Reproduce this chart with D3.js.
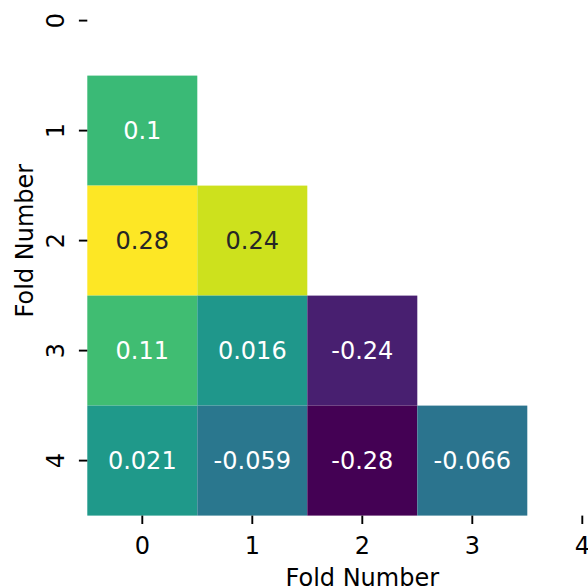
<!DOCTYPE html>
<html>
<head>
<meta charset="utf-8">
<script src="https://cdn.jsdelivr.net/npm/d3@7"></script>
<style>
  body { margin: 0; background: #fff; }
  svg text { font-family: "DejaVu Sans", sans-serif; }
</style>
</head>
<body>
<div id="chart"></div>
<script>
// fold labels (rows and columns)
var folds = [0, 1, 2, 3, 4];
// lower triangle correlations, rows 1..4
var rowIdx = [1, 2, 2, 3, 3, 3, 4, 4, 4, 4];
var colIdx = [0, 0, 1, 0, 1, 2, 0, 1, 2, 3];
var values = [0.10, 0.283, 0.24, 0.11, 0.016, -0.236, 0.021, -0.059, -0.284, -0.066];
var axisTitle = "Fold Number";

var w = 588, h = 587;
var cell = 110;
var left = 87.3, bottom = 515.6;

var svg = d3.select("#chart")
  .append("svg")
  .attr("width", w)
  .attr("height", h);

var x = d3.scaleBand()
  .domain(folds)
  .range([left, left + cell * folds.length]);

var y = d3.scaleBand()
  .domain(folds)
  .range([bottom - cell * folds.length, bottom]);

var color = d3.scaleSequential(d3.interpolateViridis)
  .domain([d3.min(values), d3.max(values)]);

var fmt = d3.formatLocale({decimal: ".", thousands: ",", grouping: [3], currency: ["", ""], minus: "-"}).format(".2~g");

var data = values.map(function(v, i) { return {r: rowIdx[i], c: colIdx[i], v: v}; });

// seaborn picks dark or white text by luminance
function textColor(c) {
  var rgb = d3.rgb(c);
  var lin = [rgb.r, rgb.g, rgb.b].map(function(u) {
    u = u / 255;
    return u <= 0.03928 ? u / 12.92 : Math.pow((u + 0.055) / 1.055, 2.4);
  });
  var lum = 0.2126 * lin[0] + 0.7152 * lin[1] + 0.0722 * lin[2];
  return lum > 0.408 ? "#262626" : "#ffffff";
}

svg.selectAll("rect.cell")
  .data(data)
  .enter()
  .append("rect")
  .attr("class", "cell")
  .attr("x", function(d) { return x(d.c); })
  .attr("y", function(d) { return y(d.r); })
  .attr("width", x.bandwidth())
  .attr("height", y.bandwidth())
  .attr("fill", function(d) { return color(d.v); });

svg.selectAll("text.annot")
  .data(data)
  .enter()
  .append("text")
  .attr("class", "annot")
  .attr("x", function(d) { return x(d.c) + x.bandwidth() / 2; })
  .attr("y", function(d) { return y(d.r) + y.bandwidth() / 2 + 8.7; })
  .attr("text-anchor", "middle")
  .attr("font-size", 24)
  .attr("fill", function(d) { return textColor(color(d.v)); })
  .text(function(d) { return fmt(d.v); });

// x axis
var xAxis = svg.append("g")
  .attr("transform", "translate(0," + bottom + ")")
  .call(d3.axisBottom(x).tickSize(8.4).tickPadding(0));
xAxis.select(".domain").remove();
xAxis.selectAll(".tick line").attr("stroke", "#000").attr("stroke-width", 1.9);
xAxis.selectAll(".tick text")
  .attr("dy", null)
  .attr("y", 38)
  .attr("font-size", 24)
  .attr("fill", "#000");

// y axis, labels rotated
var yAxis = svg.append("g")
  .attr("transform", "translate(" + left + ",0)")
  .call(d3.axisLeft(y).tickSize(8.4).tickPadding(0));
yAxis.select(".domain").remove();
yAxis.selectAll(".tick line").attr("stroke", "#000").attr("stroke-width", 1.9);
yAxis.selectAll(".tick text")
  .attr("x", null)
  .attr("dy", null)
  .attr("text-anchor", "middle")
  .attr("transform", "translate(-23.5,0) rotate(-90)")
  .attr("font-size", 24)
  .attr("fill", "#000");

// axis titles
svg.append("text")
  .attr("x", left + cell * folds.length / 2)
  .attr("y", 586)
  .attr("text-anchor", "middle")
  .attr("font-size", 24)
  .text(axisTitle);

svg.append("text")
  .attr("transform", "translate(33," + (bottom - cell * folds.length / 2) + ") rotate(-90)")
  .attr("text-anchor", "middle")
  .attr("font-size", 24)
  .text(axisTitle);
</script>
</body>
</html>
